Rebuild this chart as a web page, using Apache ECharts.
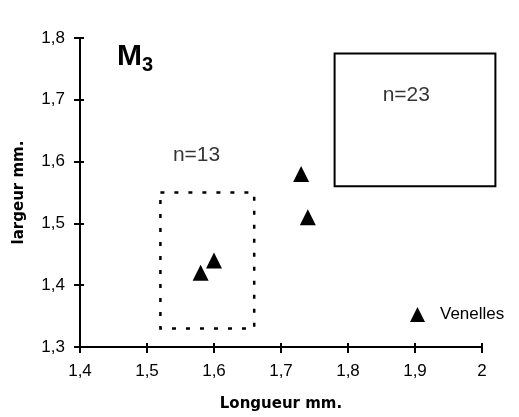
<!DOCTYPE html>
<html><head><meta charset="utf-8">
<script src="https://cdn.jsdelivr.net/npm/echarts@6/dist/echarts.min.js"></script>
<style>html,body{margin:0;padding:0;background:#fff}#c{width:519px;height:417px}</style>
</head><body><div id="c"></div>
<script>
const xTicks = [1.4, 1.5, 1.6, 1.7, 1.8, 1.9, 2.0];
const yTicks = [1.3, 1.4, 1.5, 1.6, 1.7, 1.8];
const venellesLength = [1.58, 1.60, 1.73, 1.74];
const venellesWidth = [1.42, 1.44, 1.58, 1.51];
const boxes = [
  {x0: 1.52, x1: 1.66, y0: 1.33, y1: 1.55, dashed: true},
  {x0: 1.78, x1: 2.02, y0: 1.56, y1: 1.775, dashed: false}
];
const boxLabels = ['n=13', 'n=23'];
const boxLabelX = [1.574, 1.887];
const boxLabelY = [1.61, 1.708];

const FONT = 'Liberation Sans, Arial, sans-serif';
const BOLD = 'DejaVu Sans, Liberation Sans, sans-serif';
const fmt = v => String(Math.round(v*10)/10).replace('.', ',');

const innerTicks = {
  show: true, axisLine: {show: false}, axisLabel: {show: false}, splitLine: {show: false},
  axisTick: {show: true, inside: true, length: 4, lineStyle: {color: '#000', width: 2}}
};

const chart = echarts.init(document.getElementById('c'));
chart.setOption({
  animation: false,
  backgroundColor: '#fff',
  textStyle: {fontFamily: FONT},
  title: {
    text: '{m|M}{s|3}', left: 112, top: 34,
    textStyle: {rich: {
      m: {fontSize: 30, fontWeight: 'bold', color: '#000', fontFamily: FONT},
      s: {fontSize: 20, color: '#000', fontFamily: FONT, padding: [16,0,0,0]}
    }}
  },
  grid: {left: 80, right: 37, top: 38, bottom: 69},
  legend: {
    data: [{name: 'Venelles', icon: 'triangle'}],
    left: 405, top: 301, itemWidth: 15, itemHeight: 15,
    textStyle: {fontSize: 17, color: '#000', fontFamily: FONT, padding: [0,0,0,10]}
  },
  xAxis: [{
    type: 'value', min: 1.4, max: 2.0, interval: 0.1,
    name: 'Longueur mm.', nameLocation: 'middle', nameGap: 50,
    nameTextStyle: {fontSize: 15, fontWeight: 'bold', color: '#000', fontFamily: BOLD},
    axisLine: {lineStyle: {color: '#000', width: 2}},
    axisTick: {show: true, length: 6, lineStyle: {color: '#000', width: 2}},
    axisLabel: {formatter: fmt, fontSize: 17, color: '#000', margin: 16},
    splitLine: {show: false}
  }, Object.assign({type: 'value', min: 1.4, max: 2.0, interval: 0.1, position: 'bottom'}, innerTicks)],
  yAxis: [{
    type: 'value', min: 1.3, max: 1.8, interval: 0.1,
    name: 'largeur mm.', nameLocation: 'middle', nameGap: 53, nameRotate: 90,
    nameTextStyle: {fontSize: 15, fontWeight: 'bold', color: '#000', fontFamily: BOLD},
    axisLine: {lineStyle: {color: '#000', width: 2}},
    axisTick: {show: true, length: 6, lineStyle: {color: '#000', width: 2}},
    axisLabel: {formatter: fmt, fontSize: 17, color: '#000', margin: 15},
    splitLine: {show: false}
  }, Object.assign({type: 'value', min: 1.3, max: 1.8, interval: 0.1, position: 'left'}, innerTicks)],
  series: [
    {
      name: 'Venelles', type: 'scatter', symbol: 'triangle', symbolSize: 16,
      itemStyle: {color: '#000', opacity: 1},
      data: venellesLength.map((x,i)=>[x, venellesWidth[i]]), z: 5
    },
    {
      type: 'custom', clip: false, silent: true,
      data: boxes.map(b => [b.x0, b.y0, b.x1, b.y1, b.dashed ? 1 : 0]),
      renderItem: (params, api) => {
        const p0 = api.coord([api.value(0), api.value(3)]);
        const p1 = api.coord([api.value(2), api.value(1)]);
        const dashed = api.value(4) === 1;
        return {
          type: 'rect',
          shape: {x: p0[0], y: p0[1], width: p1[0]-p0[0], height: p1[1]-p0[1]},
          style: {fill: null, stroke: '#000', lineWidth: dashed ? 2.5 : 2, lineDash: dashed ? [4, 10] : null}
        };
      }
    },
    {
      type: 'scatter', symbolSize: 0, silent: true, clip: false,
      data: boxLabels.map((t,i) => [boxLabelX[i], boxLabelY[i], t]),
      label: {show: true, position: 'inside', formatter: p => p.data[2], fontSize: 21, color: '#000', fontFamily: FONT}
    }
  ]
});
</script></body></html>
